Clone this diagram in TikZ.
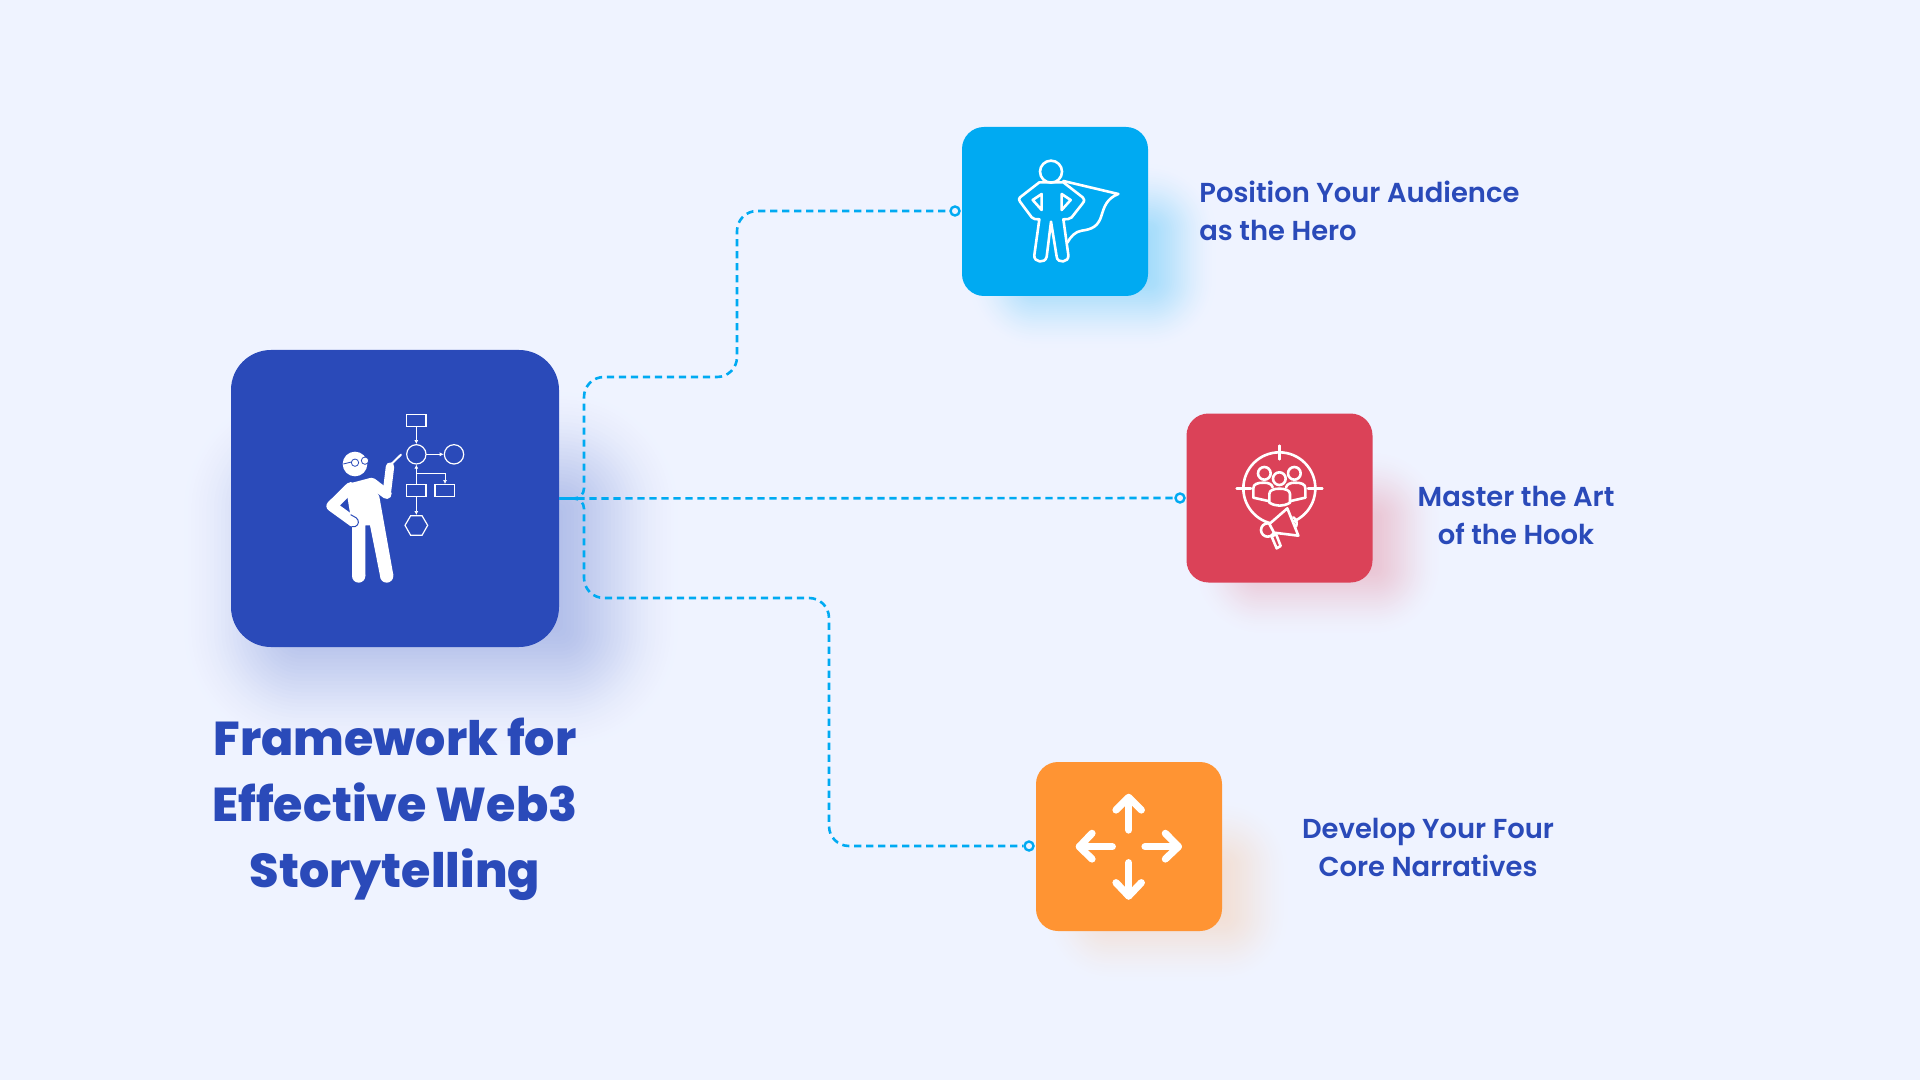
\documentclass[tikz,border=0pt]{standalone}
\usepackage{xcolor}
\usepackage{fontspec}
\usepackage{tikz}
\usetikzlibrary{calc}
\usetikzlibrary{arrows.meta}
\usetikzlibrary{positioning}
\setmainfont{Poppins}
\newfontfamily\labelfont{Poppins SemiBold}
\newfontfamily\titlefont{Poppins ExtraBold}
\definecolor{pagebg}{HTML}{EFF3FF}
\definecolor{mainblue}{HTML}{2A4AB9}
\definecolor{skyblue}{HTML}{00AAF2}
\definecolor{hookred}{HTML}{DB4258}
\definecolor{coreorange}{HTML}{FF9433}
\tikzset{>=latex}
\tikzset{tile/.style = {draw=none, inner sep=0, minimum width=93pt, minimum height=84.5pt, rounded corners=11pt}}
\tikzset{flow/.style = {draw=skyblue, line width=1.3pt, dash pattern=on 3.6pt off 2.4pt, rounded corners=10pt}}
\tikzset{pin/.style = {circle, draw=skyblue, fill=pagebg, line width=1.2pt, inner sep=0, minimum size=4.5pt}}
\tikzset{caption/.style = {draw=none, inner sep=0, text=mainblue, align=center, font=\labelfont\fontsize{13.7}{19}\selectfont}}
\tikzset{glyph/.style = {draw=white, line width=1.3pt, line cap=round, line join=round}}
\tikzset{zoomed/.style = {x=0.16667pt, y=-0.16667pt}}
% shadow: colour, peak percent, left, top, right, bottom, radius, spread
\newcommand{\softshadow}[8]{
  \foreach \i in {0,...,39} {
    \pgfmathsetmacro{\t}{\i/39}
    \pgfmathsetmacro{\s}{#8-(#8*1.7)*\t}
    \pgfmathsetmacro{\a}{#2*\t*\t*(3-2*\t)}
    \pgfmathsetmacro{\r}{max(4,#7+\s*0.5)}
    \fill [#1!\a!pagebg, rounded corners=\r pt] ({#3-\s},{#4-\s}) rectangle ({#5+\s},{#6+\s});
  }
}
\begin{document}
\begin{tikzpicture}[x=0.5pt, y=-0.5pt]
\path [use as bounding box, fill=pagebg] (0,0) rectangle (1920,1080);
% shadows
\softshadow{mainblue}{32}{262}{470}{600}{670}{20}{85}
\softshadow{skyblue}{34}{1015}{210}{1170}{302}{11}{50}
\softshadow{hookred}{28}{1240}{497}{1395}{589}{11}{50}
\softshadow{coreorange}{22}{1089}{845}{1244}{937}{11}{50}
% tiles
\node [tile, fill=mainblue, minimum width=164pt, minimum height=148.5pt, rounded corners=20pt] (frame) at (395,498.5) {};
\node [tile, fill=skyblue] (hero) at (1055,211.5) {};
\node [tile, fill=hookred] (hook) at (1279.5,498) {};
\node [tile, fill=coreorange] (core) at (1129,846.5) {};
% connectors
\node [pin] (heroPin) at (955,211) {};
\node [pin] (hookPin) at (1180,498) {};
\node [pin] (corePin) at (1029,846) {};
\coordinate (busUp) at (584,498.5);
\coordinate (busLow) at (584,598);
\coordinate (stepUp) at (584,377);
\coordinate (riseUp) at (737,377);
\coordinate (riseEnd) at (737,211);
\coordinate (dropLow) at (829,598);
\coordinate (dropEnd) at (829,846);
\draw [flow] (frame.east) [rounded corners=5pt] -- (busUp) [rounded corners=10pt] -- (stepUp) -- (riseUp) -- (riseEnd) -- (heroPin);
\draw [flow, dash phase=3pt] (frame.east) -- (hookPin);
\draw [flow] (frame.east) [rounded corners=5pt] -- (busUp) [rounded corners=10pt] -- (busLow) -- (dropLow) -- (dropEnd) -- (corePin);
% texts
\node [draw=none, inner sep=0, text=mainblue, align=center, font=\titlefont\fontsize{23.75}{33}\selectfont] (title) at (395,809) {Framework for\\Effective Web3\\Storytelling};
\node [caption, anchor=west, align=left] (heroText) at (1199,211) {Position Your Audience\\as the Hero};
\node [caption] (hookText) at (1516,515) {Master the Art\\of the Hook};
\node [caption] (coreText) at (1428,847) {Develop Your Four\\Core Narratives};
% presenter and flowchart
\begin{scope}[shift={(220,340)}, zoomed]
\fill [white] (382,432) -- (450,414) -- (478,470) -- (520,705) -- (481,712) -- (450,556) -- (436,556) -- (436,708) -- (396,708) -- (396,556) -- (382,470) -- cycle;
\fill [white] (416,708) circle (20);
\fill [white] (500,708) circle (20);
\fill [white] (405,372) circle (37);
\draw [white, line width=5.3pt, line cap=round, line join=round] (392,442) -- (335,498) -- (400,545);
\draw [mainblue, line width=0.5pt] (392,524) -- (408,533) .. controls (418,540) and (418,555) .. (405,560) -- (396,560);
\draw [white, line width=5pt, line cap=round, line join=round] (455,428) -- (500,462);
\draw [white, line width=4.2pt, line cap=round, line join=round] (500,462) -- (510,380);
\draw [white, line width=1pt, line cap=round] (512,374) -- (543,344);
\draw [mainblue, line width=0.4pt, fill=white] (435,362) circle (11);
\draw [mainblue, line width=0.4pt, fill=white] (405,368) circle (11);
\draw [mainblue, line width=0.4pt] (370,372) -- (394,366);
\begin{scope}[draw=white, line width=0.6pt]
\draw (560,224) rectangle (618,259);
\draw (589,343) circle (29);
\draw (702,343) circle (29);
\draw (560,434) rectangle (618,470);
\draw (645,434) rectangle (704,470);
\draw (555,556) -- (572,527) -- (606,527) -- (623,556) -- (606,586) -- (572,586) -- cycle;
\draw [-{Latex[length=2pt,width=2pt]}, line width=0.35pt] (589,259) -- (589,312);
\draw [-{Latex[length=2pt,width=2pt]}, line width=0.35pt] (618,343) -- (671,343);
\draw [-{Latex[length=2pt,width=2pt]}, line width=0.35pt] (589,434) -- (589,374);
\draw [-{Latex[length=2pt,width=2pt]}, line width=0.35pt] (589,401) -- (675,401) -- (675,432);
\draw [-{Latex[length=2pt,width=2pt]}, line width=0.35pt] (589,470) -- (589,525);
\end{scope}
\end{scope}
% superhero
\begin{scope}[shift={(950,120)}, zoomed]
\draw [glyph] (303,155) circle (33);
\draw [glyph] (268,187) -- (340,187) -- (398,232) .. controls (404,238) and (404,242) .. (398,250) -- (365,292) .. controls (360,298) and (350,298) .. (340,298) -- (355,405) .. controls (358,428) and (322,432) .. (320,410) -- (303,305) -- (290,410) .. controls (286,432) and (250,428) .. (253,405) -- (268,298) .. controls (258,298) and (250,298) .. (245,292) -- (210,245) .. controls (206,240) and (206,236) .. (210,232) -- cycle;
\draw [glyph] (275,222) -- (248,240) -- (275,270) -- cycle;
\draw [glyph] (335,222) -- (362,240) -- (335,270) -- cycle;
\draw [glyph] (340,183) -- (505,222) .. controls (470,235) and (462,262) .. (455,285) .. controls (445,320) and (425,328) .. (395,332) .. controls (375,335) and (362,350) .. (352,368);
\end{scope}
% target and megaphone
\begin{scope}[shift={(1170,400)}, zoomed]
\draw [glyph] (328,265) circle (108);
\draw [glyph] (328,137) -- (328,178);
\draw [glyph] (200,265) -- (243,265);
\draw [glyph] (414,265) -- (457,265);
\draw [glyph] (283,220) circle (19);
\draw [glyph] (373,220) circle (19);
\draw [glyph] (250,293) -- (250,265) .. controls (250,252) and (262,248) .. (282,248) .. controls (295,248) and (305,252) .. (308,262);
\draw [glyph] (250,293) -- (295,303);
\draw [glyph] (406,293) -- (406,265) .. controls (406,252) and (394,248) .. (374,248) .. controls (361,248) and (351,252) .. (348,262);
\draw [glyph] (406,293) -- (362,303);
\draw [glyph] (328,236) circle (19);
\draw [glyph, fill=hookred] (298,308) -- (298,282) .. controls (298,270) and (312,266) .. (328,266) .. controls (345,266) and (360,270) .. (360,282) -- (360,308) .. controls (340,320) and (318,320) .. (298,308) -- cycle;
\draw [glyph, fill=hookred] (305,410) -- (320,445) -- (332,438) -- (318,402) -- cycle;
\draw [glyph, fill=hookred] (293,390) circle (20);
\draw [glyph, fill=hookred] (352,325) -- (385,407) -- (312,398) -- (298,372) -- cycle;
\draw [glyph] (370,352) .. controls (380,358) and (382,370) .. (378,380);
\end{scope}
% four arrows
\begin{scope}[shift={(1020,750)}, zoomed]
\begin{scope}[draw=white, line width=3.6pt, line cap=round, line join=round]
\draw (326,240) -- (326,145);
\draw (288,180) -- (326,142) -- (364,180);
\draw (375,290) -- (475,290);
\draw (436,250) -- (475,290) -- (436,327);
\draw (277,290) -- (178,290);
\draw (216,250) -- (178,290) -- (216,327);
\draw (326,338) -- (326,438);
\draw (288,398) -- (326,438) -- (364,398);
\end{scope}
\end{scope}
\end{tikzpicture}
\end{document}
